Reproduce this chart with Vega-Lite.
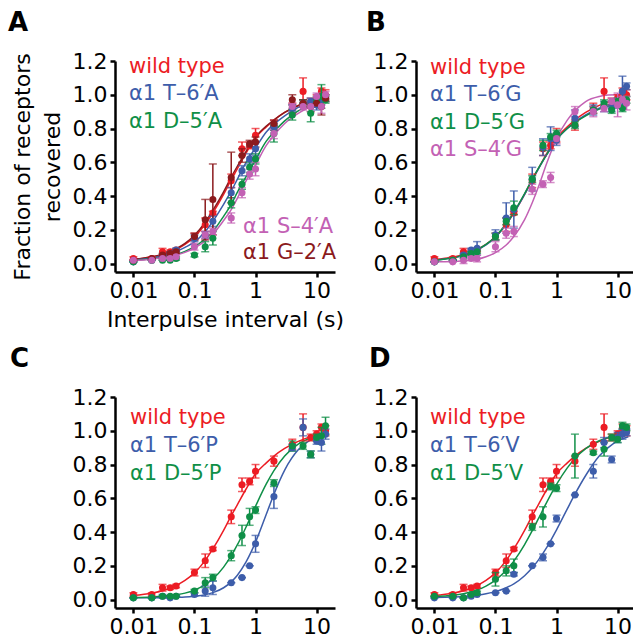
{
  "$schema": "https://vega.github.io/schema/vega-lite/v6.json",
  "background": "white",
  "padding": {"left": 8, "top": 10, "right": 0, "bottom": 0},
  "columns": 2,
  "spacing": {"row": 16, "column": 22},
  "datasets": {
    "wt": [
      {"s":"wild type","x":0.01,"y":0.03,"e":0.01},{"s":"wild type","x":0.02,"y":0.03,"e":0.01},{"s":"wild type","x":0.03,"y":0.07,"e":0.02},{"s":"wild type","x":0.04,"y":0.07,"e":0.01},{"s":"wild type","x":0.05,"y":0.08,"e":0.01},{"s":"wild type","x":0.1,"y":0.16,"e":0.02},{"s":"wild type","x":0.15,"y":0.23,"e":0.04},{"s":"wild type","x":0.2,"y":0.30,"e":0.01},{"s":"wild type","x":0.4,"y":0.49,"e":0.04},{"s":"wild type","x":0.6,"y":0.68,"e":0.04},{"s":"wild type","x":0.8,"y":0.70,"e":0.02},{"s":"wild type","x":1,"y":0.76,"e":0.04},{"s":"wild type","x":2,"y":0.82,"e":0.03},{"s":"wild type","x":4,"y":0.92,"e":0.03},{"s":"wild type","x":6,"y":1.02,"e":0.08},{"s":"wild type","x":8,"y":0.96,"e":0.02},{"s":"wild type","x":10,"y":0.98,"e":0.02},{"s":"wild type","x":12,"y":1.02,"e":0.02},{"s":"wild type","x":14,"y":1.00,"e":0.03}
    ],
    "wtc": [
      {"s":"wild type","x":0.01,"y":0.025},{"s":"wild type","x":0.02,"y":0.038},{"s":"wild type","x":0.03,"y":0.052},{"s":"wild type","x":0.05,"y":0.083},{"s":"wild type","x":0.07,"y":0.113},{"s":"wild type","x":0.1,"y":0.158},{"s":"wild type","x":0.15,"y":0.232},{"s":"wild type","x":0.2,"y":0.30},{"s":"wild type","x":0.3,"y":0.41},{"s":"wild type","x":0.4,"y":0.497},{"s":"wild type","x":0.5,"y":0.56},{"s":"wild type","x":0.7,"y":0.655},{"s":"wild type","x":1,"y":0.745},{"s":"wild type","x":1.5,"y":0.81},{"s":"wild type","x":2,"y":0.85},{"s":"wild type","x":3,"y":0.895},{"s":"wild type","x":5,"y":0.937},{"s":"wild type","x":7,"y":0.958},{"s":"wild type","x":10,"y":0.975},{"s":"wild type","x":15,"y":0.988}
    ],
    "A": [
      {"s":"α1 T–6′A","x":0.01,"y":0.01,"e":0},{"s":"α1 T–6′A","x":0.02,"y":0.02,"e":0},{"s":"α1 T–6′A","x":0.03,"y":0.04,"e":0.01},{"s":"α1 T–6′A","x":0.04,"y":0.06,"e":0.01},{"s":"α1 T–6′A","x":0.05,"y":0.08,"e":0.01},{"s":"α1 T–6′A","x":0.1,"y":0.15,"e":0.02},{"s":"α1 T–6′A","x":0.15,"y":0.17,"e":0.02},{"s":"α1 T–6′A","x":0.2,"y":0.25,"e":0.03},{"s":"α1 T–6′A","x":0.4,"y":0.42,"e":0.03},{"s":"α1 T–6′A","x":0.6,"y":0.55,"e":0.03},{"s":"α1 T–6′A","x":0.8,"y":0.62,"e":0.03},{"s":"α1 T–6′A","x":1,"y":0.68,"e":0.04},{"s":"α1 T–6′A","x":2,"y":0.81,"e":0.02},{"s":"α1 T–6′A","x":4,"y":0.92,"e":0.02},{"s":"α1 T–6′A","x":6,"y":0.95,"e":0.02},{"s":"α1 T–6′A","x":8,"y":0.96,"e":0.02},{"s":"α1 T–6′A","x":10,"y":0.94,"e":0.03},{"s":"α1 T–6′A","x":12,"y":0.97,"e":0.03},{"s":"α1 T–6′A","x":14,"y":0.98,"e":0.02},
      {"s":"α1 D–5′A","x":0.01,"y":0.01,"e":0},{"s":"α1 D–5′A","x":0.02,"y":0.02,"e":0},{"s":"α1 D–5′A","x":0.03,"y":0.02,"e":0},{"s":"α1 D–5′A","x":0.04,"y":0.02,"e":0},{"s":"α1 D–5′A","x":0.05,"y":0.03,"e":0.01},{"s":"α1 D–5′A","x":0.1,"y":0.05,"e":0.01},{"s":"α1 D–5′A","x":0.15,"y":0.10,"e":0.03},{"s":"α1 D–5′A","x":0.2,"y":0.15,"e":0.04},{"s":"α1 D–5′A","x":0.4,"y":0.36,"e":0.03},{"s":"α1 D–5′A","x":0.6,"y":0.47,"e":0.03},{"s":"α1 D–5′A","x":0.8,"y":0.57,"e":0.03},{"s":"α1 D–5′A","x":1,"y":0.62,"e":0.03},{"s":"α1 D–5′A","x":2,"y":0.77,"e":0.05},{"s":"α1 D–5′A","x":4,"y":0.88,"e":0.03},{"s":"α1 D–5′A","x":6,"y":0.95,"e":0.02},{"s":"α1 D–5′A","x":8,"y":0.89,"e":0.05},{"s":"α1 D–5′A","x":10,"y":0.96,"e":0.03},{"s":"α1 D–5′A","x":12,"y":0.99,"e":0.07},{"s":"α1 D–5′A","x":14,"y":0.97,"e":0.02},
      {"s":"α1 G–2′A","x":0.01,"y":0.02,"e":0},{"s":"α1 G–2′A","x":0.02,"y":0.03,"e":0},{"s":"α1 G–2′A","x":0.03,"y":0.05,"e":0.01},{"s":"α1 G–2′A","x":0.04,"y":0.06,"e":0.01},{"s":"α1 G–2′A","x":0.05,"y":0.07,"e":0.01},{"s":"α1 G–2′A","x":0.1,"y":0.16,"e":0.02},{"s":"α1 G–2′A","x":0.15,"y":0.26,"e":0.12},{"s":"α1 G–2′A","x":0.2,"y":0.38,"e":0.21},{"s":"α1 G–2′A","x":0.4,"y":0.51,"e":0.15},{"s":"α1 G–2′A","x":0.6,"y":0.64,"e":0.04},{"s":"α1 G–2′A","x":0.8,"y":0.71,"e":0.02},{"s":"α1 G–2′A","x":1,"y":0.72,"e":0.03},{"s":"α1 G–2′A","x":2,"y":0.83,"e":0.02},{"s":"α1 G–2′A","x":4,"y":0.97,"e":0.03},{"s":"α1 G–2′A","x":6,"y":0.95,"e":0.02},{"s":"α1 G–2′A","x":8,"y":0.93,"e":0.03},{"s":"α1 G–2′A","x":10,"y":0.95,"e":0.02},{"s":"α1 G–2′A","x":12,"y":0.93,"e":0.05},{"s":"α1 G–2′A","x":14,"y":0.98,"e":0.02},
      {"s":"α1 S–4′A","x":0.01,"y":0.02,"e":0},{"s":"α1 S–4′A","x":0.02,"y":0.02,"e":0},{"s":"α1 S–4′A","x":0.03,"y":0.03,"e":0},{"s":"α1 S–4′A","x":0.04,"y":0.03,"e":0},{"s":"α1 S–4′A","x":0.05,"y":0.04,"e":0.01},{"s":"α1 S–4′A","x":0.1,"y":0.10,"e":0.02},{"s":"α1 S–4′A","x":0.15,"y":0.17,"e":0.02},{"s":"α1 S–4′A","x":0.2,"y":0.19,"e":0.02},{"s":"α1 S–4′A","x":0.4,"y":0.27,"e":0.03},{"s":"α1 S–4′A","x":0.6,"y":0.42,"e":0.03},{"s":"α1 S–4′A","x":0.8,"y":0.53,"e":0.03},{"s":"α1 S–4′A","x":1,"y":0.56,"e":0.04},{"s":"α1 S–4′A","x":2,"y":0.77,"e":0.03},{"s":"α1 S–4′A","x":4,"y":0.93,"e":0.02},{"s":"α1 S–4′A","x":6,"y":0.93,"e":0.02},{"s":"α1 S–4′A","x":8,"y":0.93,"e":0.03},{"s":"α1 S–4′A","x":10,"y":0.99,"e":0.02},{"s":"α1 S–4′A","x":12,"y":0.93,"e":0.04},{"s":"α1 S–4′A","x":14,"y":1.0,"e":0.02}
    ],
    "Ac": [
      {"s":"α1 G–2′A","x":0.01,"y":0.025},{"s":"α1 G–2′A","x":0.02,"y":0.04},{"s":"α1 G–2′A","x":0.03,"y":0.055},{"s":"α1 G–2′A","x":0.05,"y":0.088},{"s":"α1 G–2′A","x":0.07,"y":0.12},{"s":"α1 G–2′A","x":0.1,"y":0.168},{"s":"α1 G–2′A","x":0.15,"y":0.245},{"s":"α1 G–2′A","x":0.2,"y":0.315},{"s":"α1 G–2′A","x":0.3,"y":0.425},{"s":"α1 G–2′A","x":0.4,"y":0.512},{"s":"α1 G–2′A","x":0.5,"y":0.575},{"s":"α1 G–2′A","x":0.7,"y":0.665},{"s":"α1 G–2′A","x":1,"y":0.75},{"s":"α1 G–2′A","x":1.5,"y":0.815},{"s":"α1 G–2′A","x":2,"y":0.85},{"s":"α1 G–2′A","x":3,"y":0.895},{"s":"α1 G–2′A","x":5,"y":0.935},{"s":"α1 G–2′A","x":7,"y":0.955},{"s":"α1 G–2′A","x":10,"y":0.972},{"s":"α1 G–2′A","x":15,"y":0.985},
      {"s":"α1 T–6′A","x":0.01,"y":0.02},{"s":"α1 T–6′A","x":0.02,"y":0.033},{"s":"α1 T–6′A","x":0.03,"y":0.045},{"s":"α1 T–6′A","x":0.05,"y":0.071},{"s":"α1 T–6′A","x":0.07,"y":0.096},{"s":"α1 T–6′A","x":0.1,"y":0.128},{"s":"α1 T–6′A","x":0.15,"y":0.19},{"s":"α1 T–6′A","x":0.2,"y":0.25},{"s":"α1 T–6′A","x":0.3,"y":0.35},{"s":"α1 T–6′A","x":0.4,"y":0.43},{"s":"α1 T–6′A","x":0.5,"y":0.497},{"s":"α1 T–6′A","x":0.7,"y":0.60},{"s":"α1 T–6′A","x":1,"y":0.685},{"s":"α1 T–6′A","x":1.5,"y":0.78},{"s":"α1 T–6′A","x":2,"y":0.825},{"s":"α1 T–6′A","x":3,"y":0.875},{"s":"α1 T–6′A","x":5,"y":0.925},{"s":"α1 T–6′A","x":7,"y":0.948},{"s":"α1 T–6′A","x":10,"y":0.967},{"s":"α1 T–6′A","x":15,"y":0.982},
      {"s":"α1 D–5′A","x":0.01,"y":0.018},{"s":"α1 D–5′A","x":0.02,"y":0.028},{"s":"α1 D–5′A","x":0.03,"y":0.036},{"s":"α1 D–5′A","x":0.05,"y":0.054},{"s":"α1 D–5′A","x":0.07,"y":0.072},{"s":"α1 D–5′A","x":0.1,"y":0.10},{"s":"α1 D–5′A","x":0.15,"y":0.147},{"s":"α1 D–5′A","x":0.2,"y":0.19},{"s":"α1 D–5′A","x":0.3,"y":0.28},{"s":"α1 D–5′A","x":0.4,"y":0.35},{"s":"α1 D–5′A","x":0.5,"y":0.42},{"s":"α1 D–5′A","x":0.7,"y":0.515},{"s":"α1 D–5′A","x":1,"y":0.615},{"s":"α1 D–5′A","x":1.5,"y":0.725},{"s":"α1 D–5′A","x":2,"y":0.78},{"s":"α1 D–5′A","x":3,"y":0.845},{"s":"α1 D–5′A","x":5,"y":0.905},{"s":"α1 D–5′A","x":7,"y":0.93},{"s":"α1 D–5′A","x":10,"y":0.953},{"s":"α1 D–5′A","x":15,"y":0.972},
      {"s":"α1 S–4′A","x":0.01,"y":0.017},{"s":"α1 S–4′A","x":0.02,"y":0.026},{"s":"α1 S–4′A","x":0.03,"y":0.034},{"s":"α1 S–4′A","x":0.05,"y":0.05},{"s":"α1 S–4′A","x":0.07,"y":0.066},{"s":"α1 S–4′A","x":0.1,"y":0.092},{"s":"α1 S–4′A","x":0.15,"y":0.134},{"s":"α1 S–4′A","x":0.2,"y":0.174},{"s":"α1 S–4′A","x":0.3,"y":0.255},{"s":"α1 S–4′A","x":0.4,"y":0.32},{"s":"α1 S–4′A","x":0.5,"y":0.385},{"s":"α1 S–4′A","x":0.7,"y":0.49},{"s":"α1 S–4′A","x":1,"y":0.585},{"s":"α1 S–4′A","x":1.5,"y":0.70},{"s":"α1 S–4′A","x":2,"y":0.76},{"s":"α1 S–4′A","x":3,"y":0.83},{"s":"α1 S–4′A","x":5,"y":0.89},{"s":"α1 S–4′A","x":7,"y":0.92},{"s":"α1 S–4′A","x":10,"y":0.947},{"s":"α1 S–4′A","x":15,"y":0.97}
    ],
    "B": [
      {"s":"α1 T–6′G","x":0.01,"y":0.01,"e":0},{"s":"α1 T–6′G","x":0.02,"y":0.02,"e":0},{"s":"α1 T–6′G","x":0.03,"y":0.05,"e":0.01},{"s":"α1 T–6′G","x":0.04,"y":0.08,"e":0.01},{"s":"α1 T–6′G","x":0.05,"y":0.09,"e":0.04},{"s":"α1 T–6′G","x":0.1,"y":0.17,"e":0.03},{"s":"α1 T–6′G","x":0.15,"y":0.27,"e":0.09},{"s":"α1 T–6′G","x":0.2,"y":0.32,"e":0.11},{"s":"α1 T–6′G","x":0.4,"y":0.50,"e":0.07},{"s":"α1 T–6′G","x":0.6,"y":0.69,"e":0.05},{"s":"α1 T–6′G","x":0.8,"y":0.74,"e":0.07},{"s":"α1 T–6′G","x":1,"y":0.73,"e":0.03},{"s":"α1 T–6′G","x":2,"y":0.86,"e":0.05},{"s":"α1 T–6′G","x":4,"y":0.91,"e":0.03},{"s":"α1 T–6′G","x":6,"y":0.93,"e":0.03},{"s":"α1 T–6′G","x":8,"y":0.92,"e":0.02},{"s":"α1 T–6′G","x":10,"y":0.95,"e":0.03},{"s":"α1 T–6′G","x":12,"y":1.02,"e":0.09},{"s":"α1 T–6′G","x":14,"y":1.05,"e":0.02},
      {"s":"α1 D–5′G","x":0.01,"y":0.01,"e":0},{"s":"α1 D–5′G","x":0.02,"y":0.02,"e":0},{"s":"α1 D–5′G","x":0.03,"y":0.04,"e":0.01},{"s":"α1 D–5′G","x":0.04,"y":0.06,"e":0.01},{"s":"α1 D–5′G","x":0.05,"y":0.07,"e":0.01},{"s":"α1 D–5′G","x":0.1,"y":0.16,"e":0.02},{"s":"α1 D–5′G","x":0.15,"y":0.25,"e":0.02},{"s":"α1 D–5′G","x":0.2,"y":0.33,"e":0.04},{"s":"α1 D–5′G","x":0.4,"y":0.50,"e":0.02},{"s":"α1 D–5′G","x":0.6,"y":0.70,"e":0.03},{"s":"α1 D–5′G","x":0.8,"y":0.75,"e":0.02},{"s":"α1 D–5′G","x":1,"y":0.77,"e":0.02},{"s":"α1 D–5′G","x":2,"y":0.82,"e":0.02},{"s":"α1 D–5′G","x":4,"y":0.91,"e":0.02},{"s":"α1 D–5′G","x":6,"y":0.95,"e":0.02},{"s":"α1 D–5′G","x":8,"y":0.91,"e":0.02},{"s":"α1 D–5′G","x":10,"y":0.96,"e":0.02},{"s":"α1 D–5′G","x":12,"y":0.92,"e":0.02},{"s":"α1 D–5′G","x":14,"y":0.97,"e":0.02},
      {"s":"α1 S–4′G","x":0.01,"y":0.01,"e":0},{"s":"α1 S–4′G","x":0.02,"y":0.01,"e":0},{"s":"α1 S–4′G","x":0.03,"y":0.02,"e":0.02},{"s":"α1 S–4′G","x":0.04,"y":0.03,"e":0.01},{"s":"α1 S–4′G","x":0.05,"y":0.03,"e":0.02},{"s":"α1 S–4′G","x":0.1,"y":0.10,"e":0.03},{"s":"α1 S–4′G","x":0.15,"y":0.18,"e":0.03},{"s":"α1 S–4′G","x":0.2,"y":0.19,"e":0.03},{"s":"α1 S–4′G","x":0.4,"y":0.44,"e":0.03},{"s":"α1 S–4′G","x":0.6,"y":0.47,"e":0.02},{"s":"α1 S–4′G","x":0.8,"y":0.51,"e":0.03},{"s":"α1 S–4′G","x":1,"y":0.74,"e":0.03},{"s":"α1 S–4′G","x":2,"y":0.90,"e":0.03},{"s":"α1 S–4′G","x":4,"y":0.90,"e":0.03},{"s":"α1 S–4′G","x":6,"y":0.92,"e":0.02},{"s":"α1 S–4′G","x":8,"y":0.96,"e":0.02},{"s":"α1 S–4′G","x":10,"y":0.94,"e":0.07},{"s":"α1 S–4′G","x":12,"y":0.97,"e":0.02},{"s":"α1 S–4′G","x":14,"y":0.95,"e":0.04}
    ],
    "Bc": [
      {"s":"α1 T–6′G","x":0.01,"y":0.02},{"s":"α1 T–6′G","x":0.02,"y":0.034},{"s":"α1 T–6′G","x":0.03,"y":0.048},{"s":"α1 T–6′G","x":0.05,"y":0.08},{"s":"α1 T–6′G","x":0.07,"y":0.11},{"s":"α1 T–6′G","x":0.1,"y":0.156},{"s":"α1 T–6′G","x":0.15,"y":0.232},{"s":"α1 T–6′G","x":0.2,"y":0.30},{"s":"α1 T–6′G","x":0.3,"y":0.41},{"s":"α1 T–6′G","x":0.4,"y":0.495},{"s":"α1 T–6′G","x":0.5,"y":0.558},{"s":"α1 T–6′G","x":0.7,"y":0.648},{"s":"α1 T–6′G","x":1,"y":0.733},{"s":"α1 T–6′G","x":1.5,"y":0.80},{"s":"α1 T–6′G","x":2,"y":0.838},{"s":"α1 T–6′G","x":3,"y":0.88},{"s":"α1 T–6′G","x":5,"y":0.92},{"s":"α1 T–6′G","x":7,"y":0.94},{"s":"α1 T–6′G","x":10,"y":0.958},{"s":"α1 T–6′G","x":15,"y":0.975},
      {"s":"α1 D–5′G","x":0.01,"y":0.02},{"s":"α1 D–5′G","x":0.02,"y":0.035},{"s":"α1 D–5′G","x":0.03,"y":0.05},{"s":"α1 D–5′G","x":0.05,"y":0.082},{"s":"α1 D–5′G","x":0.07,"y":0.113},{"s":"α1 D–5′G","x":0.1,"y":0.16},{"s":"α1 D–5′G","x":0.15,"y":0.237},{"s":"α1 D–5′G","x":0.2,"y":0.305},{"s":"α1 D–5′G","x":0.3,"y":0.415},{"s":"α1 D–5′G","x":0.4,"y":0.50},{"s":"α1 D–5′G","x":0.5,"y":0.562},{"s":"α1 D–5′G","x":0.7,"y":0.65},{"s":"α1 D–5′G","x":1,"y":0.735},{"s":"α1 D–5′G","x":1.5,"y":0.80},{"s":"α1 D–5′G","x":2,"y":0.835},{"s":"α1 D–5′G","x":3,"y":0.875},{"s":"α1 D–5′G","x":5,"y":0.915},{"s":"α1 D–5′G","x":7,"y":0.935},{"s":"α1 D–5′G","x":10,"y":0.955},{"s":"α1 D–5′G","x":15,"y":0.97},
      {"s":"α1 S–4′G","x":0.01,"y":0.01},{"s":"α1 S–4′G","x":0.02,"y":0.012},{"s":"α1 S–4′G","x":0.03,"y":0.016},{"s":"α1 S–4′G","x":0.05,"y":0.025},{"s":"α1 S–4′G","x":0.07,"y":0.04},{"s":"α1 S–4′G","x":0.1,"y":0.065},{"s":"α1 S–4′G","x":0.15,"y":0.11},{"s":"α1 S–4′G","x":0.2,"y":0.16},{"s":"α1 S–4′G","x":0.3,"y":0.26},{"s":"α1 S–4′G","x":0.4,"y":0.36},{"s":"α1 S–4′G","x":0.5,"y":0.45},{"s":"α1 S–4′G","x":0.7,"y":0.60},{"s":"α1 S–4′G","x":1,"y":0.74},{"s":"α1 S–4′G","x":1.5,"y":0.85},{"s":"α1 S–4′G","x":2,"y":0.905},{"s":"α1 S–4′G","x":3,"y":0.96},{"s":"α1 S–4′G","x":5,"y":0.99},{"s":"α1 S–4′G","x":7,"y":0.998},{"s":"α1 S–4′G","x":10,"y":1.0},{"s":"α1 S–4′G","x":15,"y":1.0}
    ],
    "C": [
      {"s":"α1 T–6′P","x":0.01,"y":0.01,"e":0},{"s":"α1 T–6′P","x":0.02,"y":0.01,"e":0},{"s":"α1 T–6′P","x":0.03,"y":0.02,"e":0.01},{"s":"α1 T–6′P","x":0.04,"y":0.01,"e":0},{"s":"α1 T–6′P","x":0.05,"y":0.02,"e":0},{"s":"α1 T–6′P","x":0.1,"y":0.03,"e":0.01},{"s":"α1 T–6′P","x":0.15,"y":0.05,"e":0.03},{"s":"α1 T–6′P","x":0.2,"y":0.07,"e":0.04},{"s":"α1 T–6′P","x":0.4,"y":0.10,"e":0},{"s":"α1 T–6′P","x":0.6,"y":0.13,"e":0},{"s":"α1 T–6′P","x":0.8,"y":0.20,"e":0},{"s":"α1 T–6′P","x":1,"y":0.33,"e":0.05},{"s":"α1 T–6′P","x":2,"y":0.61,"e":0.07},{"s":"α1 T–6′P","x":4,"y":0.90,"e":0.02},{"s":"α1 T–6′P","x":6,"y":1.02,"e":0.05},{"s":"α1 T–6′P","x":8,"y":0.86,"e":0.02},{"s":"α1 T–6′P","x":10,"y":0.94,"e":0.02},{"s":"α1 T–6′P","x":12,"y":0.93,"e":0.05},{"s":"α1 T–6′P","x":14,"y":0.98,"e":0.03},
      {"s":"α1 D–5′P","x":0.01,"y":0.01,"e":0},{"s":"α1 D–5′P","x":0.02,"y":0.01,"e":0},{"s":"α1 D–5′P","x":0.03,"y":0.02,"e":0},{"s":"α1 D–5′P","x":0.04,"y":0.02,"e":0},{"s":"α1 D–5′P","x":0.05,"y":0.02,"e":0},{"s":"α1 D–5′P","x":0.1,"y":0.05,"e":0.01},{"s":"α1 D–5′P","x":0.15,"y":0.10,"e":0.03},{"s":"α1 D–5′P","x":0.2,"y":0.13,"e":0.02},{"s":"α1 D–5′P","x":0.4,"y":0.26,"e":0.03},{"s":"α1 D–5′P","x":0.6,"y":0.38,"e":0.06},{"s":"α1 D–5′P","x":0.8,"y":0.49,"e":0.05},{"s":"α1 D–5′P","x":1,"y":0.53,"e":0.02},{"s":"α1 D–5′P","x":2,"y":0.69,"e":0.02},{"s":"α1 D–5′P","x":4,"y":0.91,"e":0.03},{"s":"α1 D–5′P","x":6,"y":0.91,"e":0.02},{"s":"α1 D–5′P","x":8,"y":0.86,"e":0.02},{"s":"α1 D–5′P","x":10,"y":0.96,"e":0.02},{"s":"α1 D–5′P","x":12,"y":0.97,"e":0.05},{"s":"α1 D–5′P","x":14,"y":1.03,"e":0.05}
    ],
    "Cc": [
      {"s":"α1 T–6′P","x":0.01,"y":0.01},{"s":"α1 T–6′P","x":0.02,"y":0.011},{"s":"α1 T–6′P","x":0.03,"y":0.011},{"s":"α1 T–6′P","x":0.05,"y":0.013},{"s":"α1 T–6′P","x":0.07,"y":0.015},{"s":"α1 T–6′P","x":0.1,"y":0.02},{"s":"α1 T–6′P","x":0.15,"y":0.029},{"s":"α1 T–6′P","x":0.2,"y":0.041},{"s":"α1 T–6′P","x":0.3,"y":0.07},{"s":"α1 T–6′P","x":0.4,"y":0.105},{"s":"α1 T–6′P","x":0.5,"y":0.143},{"s":"α1 T–6′P","x":0.7,"y":0.223},{"s":"α1 T–6′P","x":1,"y":0.34},{"s":"α1 T–6′P","x":1.5,"y":0.505},{"s":"α1 T–6′P","x":2,"y":0.624},{"s":"α1 T–6′P","x":3,"y":0.767},{"s":"α1 T–6′P","x":5,"y":0.887},{"s":"α1 T–6′P","x":7,"y":0.933},{"s":"α1 T–6′P","x":10,"y":0.962},{"s":"α1 T–6′P","x":15,"y":0.98},
      {"s":"α1 D–5′P","x":0.01,"y":0.012},{"s":"α1 D–5′P","x":0.02,"y":0.015},{"s":"α1 D–5′P","x":0.03,"y":0.019},{"s":"α1 D–5′P","x":0.05,"y":0.028},{"s":"α1 D–5′P","x":0.07,"y":0.038},{"s":"α1 D–5′P","x":0.1,"y":0.056},{"s":"α1 D–5′P","x":0.15,"y":0.088},{"s":"α1 D–5′P","x":0.2,"y":0.122},{"s":"α1 D–5′P","x":0.3,"y":0.192},{"s":"α1 D–5′P","x":0.4,"y":0.26},{"s":"α1 D–5′P","x":0.5,"y":0.322},{"s":"α1 D–5′P","x":0.7,"y":0.43},{"s":"α1 D–5′P","x":1,"y":0.553},{"s":"α1 D–5′P","x":1.5,"y":0.685},{"s":"α1 D–5′P","x":2,"y":0.764},{"s":"α1 D–5′P","x":3,"y":0.851},{"s":"α1 D–5′P","x":5,"y":0.921},{"s":"α1 D–5′P","x":7,"y":0.949},{"s":"α1 D–5′P","x":10,"y":0.969},{"s":"α1 D–5′P","x":15,"y":0.982}
    ],
    "D": [
      {"s":"α1 T–6′V","x":0.01,"y":0.01,"e":0},{"s":"α1 T–6′V","x":0.02,"y":0.01,"e":0},{"s":"α1 T–6′V","x":0.03,"y":0.01,"e":0},{"s":"α1 T–6′V","x":0.04,"y":0.02,"e":0},{"s":"α1 T–6′V","x":0.05,"y":0.03,"e":0},{"s":"α1 T–6′V","x":0.1,"y":0.04,"e":0},{"s":"α1 T–6′V","x":0.15,"y":0.05,"e":0},{"s":"α1 T–6′V","x":0.2,"y":0.15,"e":0.01},{"s":"α1 T–6′V","x":0.4,"y":0.20,"e":0},{"s":"α1 T–6′V","x":0.6,"y":0.25,"e":0.02},{"s":"α1 T–6′V","x":0.8,"y":0.33,"e":0},{"s":"α1 T–6′V","x":1,"y":0.48,"e":0.02},{"s":"α1 T–6′V","x":2,"y":0.62,"e":0},{"s":"α1 T–6′V","x":4,"y":0.76,"e":0.04},{"s":"α1 T–6′V","x":6,"y":0.93,"e":0.03},{"s":"α1 T–6′V","x":8,"y":0.83,"e":0.02},{"s":"α1 T–6′V","x":10,"y":0.96,"e":0.03},{"s":"α1 T–6′V","x":12,"y":0.98,"e":0.03},{"s":"α1 T–6′V","x":14,"y":0.99,"e":0.02},
      {"s":"α1 D–5′V","x":0.01,"y":0.02,"e":0},{"s":"α1 D–5′V","x":0.02,"y":0.02,"e":0},{"s":"α1 D–5′V","x":0.03,"y":0.01,"e":0},{"s":"α1 D–5′V","x":0.04,"y":0.03,"e":0},{"s":"α1 D–5′V","x":0.05,"y":0.04,"e":0.01},{"s":"α1 D–5′V","x":0.1,"y":0.12,"e":0.04},{"s":"α1 D–5′V","x":0.15,"y":0.17,"e":0.03},{"s":"α1 D–5′V","x":0.2,"y":0.20,"e":0.04},{"s":"α1 D–5′V","x":0.4,"y":0.43,"e":0.02},{"s":"α1 D–5′V","x":0.6,"y":0.49,"e":0.06},{"s":"α1 D–5′V","x":0.8,"y":0.67,"e":0.02},{"s":"α1 D–5′V","x":1,"y":0.66,"e":0.02},{"s":"α1 D–5′V","x":2,"y":0.85,"e":0.13},{"s":"α1 D–5′V","x":4,"y":0.87,"e":0.01},{"s":"α1 D–5′V","x":6,"y":0.89,"e":0.04},{"s":"α1 D–5′V","x":8,"y":0.96,"e":0.02},{"s":"α1 D–5′V","x":10,"y":0.95,"e":0.02},{"s":"α1 D–5′V","x":12,"y":1.03,"e":0.02},{"s":"α1 D–5′V","x":14,"y":1.02,"e":0.02}
    ],
    "Dc": [
      {"s":"α1 T–6′V","x":0.01,"y":0.012},{"s":"α1 T–6′V","x":0.02,"y":0.015},{"s":"α1 T–6′V","x":0.03,"y":0.018},{"s":"α1 T–6′V","x":0.05,"y":0.026},{"s":"α1 T–6′V","x":0.07,"y":0.034},{"s":"α1 T–6′V","x":0.1,"y":0.047},{"s":"α1 T–6′V","x":0.15,"y":0.07},{"s":"α1 T–6′V","x":0.2,"y":0.093},{"s":"α1 T–6′V","x":0.3,"y":0.141},{"s":"α1 T–6′V","x":0.4,"y":0.188},{"s":"α1 T–6′V","x":0.5,"y":0.232},{"s":"α1 T–6′V","x":0.7,"y":0.312},{"s":"α1 T–6′V","x":1,"y":0.413},{"s":"α1 T–6′V","x":1.5,"y":0.537},{"s":"α1 T–6′V","x":2,"y":0.624},{"s":"α1 T–6′V","x":3,"y":0.735},{"s":"α1 T–6′V","x":5,"y":0.85},{"s":"α1 T–6′V","x":7,"y":0.90},{"s":"α1 T–6′V","x":10,"y":0.94},{"s":"α1 T–6′V","x":15,"y":0.965},
      {"s":"α1 D–5′V","x":0.01,"y":0.017},{"s":"α1 D–5′V","x":0.02,"y":0.025},{"s":"α1 D–5′V","x":0.03,"y":0.035},{"s":"α1 D–5′V","x":0.05,"y":0.057},{"s":"α1 D–5′V","x":0.07,"y":0.08},{"s":"α1 D–5′V","x":0.1,"y":0.115},{"s":"α1 D–5′V","x":0.15,"y":0.173},{"s":"α1 D–5′V","x":0.2,"y":0.228},{"s":"α1 D–5′V","x":0.3,"y":0.326},{"s":"α1 D–5′V","x":0.4,"y":0.408},{"s":"α1 D–5′V","x":0.5,"y":0.476},{"s":"α1 D–5′V","x":0.7,"y":0.58},{"s":"α1 D–5′V","x":1,"y":0.682},{"s":"α1 D–5′V","x":1.5,"y":0.78},{"s":"α1 D–5′V","x":2,"y":0.836},{"s":"α1 D–5′V","x":3,"y":0.894},{"s":"α1 D–5′V","x":5,"y":0.941},{"s":"α1 D–5′V","x":7,"y":0.96},{"s":"α1 D–5′V","x":10,"y":0.974},{"s":"α1 D–5′V","x":15,"y":0.984}
    ]
  },
  "concat": [
    {
      "width": 220, "height": 211,
      "title": {"text": "A", "dx": -107, "offset": 14},
      "encoding": {
        "x": {"field": "x", "type": "quantitative", "scale": {"type": "log", "domain": [0.005, 20]}, "axis": {"values": [0.01, 0.1, 1, 10], "format": "~g", "title": "Interpulse interval (s)", "titlePadding": 8, "labelPadding": 3}},
        "y": {"field": "y", "type": "quantitative", "scale": {"domain": [-0.05, 1.2], "nice": false, "zero": false}, "axis": {"values": [0, 0.2, 0.4, 0.6, 0.8, 1.0, 1.2], "format": ".1f", "title": ["Fraction of receptors", "recovered"], "titlePadding": 8, "titleLineHeight": 30}},
        "color": {"field": "s", "type": "nominal",
          "scale": {"domain": ["wild type", "α1 T–6′A", "α1 D–5′A", "α1 S–4′A", "α1 G–2′A"], "range": ["#EC1C24", "#3D5DAA", "#0F8F47", "#C361B4", "#8B1A1D"]},
          "legend": {"title": null, "orient": "none", "legendX": -7, "legendY": -5, "values": ["wild type", "α1 T–6′A", "α1 D–5′A"], "rowPadding": 5.5,
            "labelColor": {"expr": "indexof(datum.label,'wild')>=0 ? '#EC1C24' : indexof(datum.label,'T–')>=0 ? '#3D5DAA' : indexof(datum.label,'D–')>=0 ? '#0F8F47' : indexof(datum.label,'S–')>=0 ? '#C361B4' : '#8B1A1D'"}}}
      },
      "layer": [
        {"data": {"name": "wtc"}, "mark": {"type": "line", "interpolate": "monotone", "strokeWidth": 1.5}},
        {"data": {"name": "Ac"}, "mark": {"type": "line", "interpolate": "monotone", "strokeWidth": 1.5},
          "encoding": {"stroke": {"field": "s", "type": "nominal",
            "scale": {"domain": ["α1 S–4′A", "α1 G–2′A", "α1 T–6′A", "α1 D–5′A"], "range": ["#C361B4", "#8B1A1D", "#3D5DAA", "#0F8F47"]},
            "legend": {"title": null, "orient": "none", "legendX": 107, "legendY": 155, "values": ["α1 S–4′A", "α1 G–2′A"], "rowPadding": 4.5,
              "labelColor": {"expr": "indexof(datum.label,'S–')>=0 ? '#C361B4' : '#8B1A1D'"}}}}},
        {"data": {"name": "wt"}, "mark": {"type": "errorbar", "ticks": true, "size": 8, "thickness": 1.5}, "encoding": {"yError": {"field": "e"}}},
        {"data": {"name": "wt"}, "mark": {"type": "point", "filled": true, "size": 50, "opacity": 1}},
        {"data": {"name": "A"}, "mark": {"type": "errorbar", "ticks": true, "size": 8, "thickness": 1.5}, "encoding": {"yError": {"field": "e"}}},
        {"data": {"name": "A"}, "mark": {"type": "point", "filled": true, "size": 50, "opacity": 1}}
      ]
    },
    {
      "width": 220, "height": 211,
      "title": {"text": "B", "dx": -50, "offset": 14},
      "encoding": {
        "x": {"field": "x", "type": "quantitative", "scale": {"type": "log", "domain": [0.005, 20]}, "axis": {"values": [0.01, 0.1, 1, 10], "format": "~g", "title": null, "labelPadding": 3}},
        "y": {"field": "y", "type": "quantitative", "scale": {"domain": [-0.05, 1.2], "nice": false, "zero": false}, "axis": {"values": [0, 0.2, 0.4, 0.6, 0.8, 1.0, 1.2], "format": ".1f", "title": null}},
        "color": {"field": "s", "type": "nominal",
          "scale": {"domain": ["wild type", "α1 T–6′G", "α1 D–5′G", "α1 S–4′G"], "range": ["#EC1C24", "#3D5DAA", "#0F8F47", "#C361B4"]},
          "legend": {"title": null, "orient": "none", "legendX": -7, "legendY": -4, "rowPadding": 5.5,
            "labelColor": {"expr": "indexof(datum.label,'wild')>=0 ? '#EC1C24' : indexof(datum.label,'T–')>=0 ? '#3D5DAA' : indexof(datum.label,'D–')>=0 ? '#0F8F47' : '#C361B4'"}}}
      },
      "layer": [
        {"data": {"name": "wtc"}, "mark": {"type": "line", "interpolate": "monotone", "strokeWidth": 1.5}},
        {"data": {"name": "Bc"}, "mark": {"type": "line", "interpolate": "monotone", "strokeWidth": 1.5}},
        {"data": {"name": "wt"}, "mark": {"type": "errorbar", "ticks": true, "size": 8, "thickness": 1.5}, "encoding": {"yError": {"field": "e"}}},
        {"data": {"name": "wt"}, "mark": {"type": "point", "filled": true, "size": 50, "opacity": 1}},
        {"data": {"name": "B"}, "mark": {"type": "errorbar", "ticks": true, "size": 8, "thickness": 1.5}, "encoding": {"yError": {"field": "e"}}},
        {"data": {"name": "B"}, "mark": {"type": "point", "filled": true, "size": 50, "opacity": 1}}
      ]
    },
    {
      "width": 220, "height": 211,
      "title": {"text": "C", "dx": -105, "offset": 14},
      "encoding": {
        "x": {"field": "x", "type": "quantitative", "scale": {"type": "log", "domain": [0.005, 20]}, "axis": {"values": [0.01, 0.1, 1, 10], "format": "~g", "title": null, "labelPadding": 3}},
        "y": {"field": "y", "type": "quantitative", "scale": {"domain": [-0.05, 1.2], "nice": false, "zero": false}, "axis": {"values": [0, 0.2, 0.4, 0.6, 0.8, 1.0, 1.2], "format": ".1f", "title": null}},
        "color": {"field": "s", "type": "nominal",
          "scale": {"domain": ["wild type", "α1 T–6′P", "α1 D–5′P"], "range": ["#EC1C24", "#3D5DAA", "#0F8F47"]},
          "legend": {"title": null, "orient": "none", "legendX": -6, "legendY": 10, "rowPadding": 6,
            "labelColor": {"expr": "indexof(datum.label,'wild')>=0 ? '#EC1C24' : indexof(datum.label,'T–')>=0 ? '#3D5DAA' : '#0F8F47'"}}}
      },
      "layer": [
        {"data": {"name": "wtc"}, "mark": {"type": "line", "interpolate": "monotone", "strokeWidth": 1.5}},
        {"data": {"name": "Cc"}, "mark": {"type": "line", "interpolate": "monotone", "strokeWidth": 1.5}},
        {"data": {"name": "wt"}, "mark": {"type": "errorbar", "ticks": true, "size": 8, "thickness": 1.5}, "encoding": {"yError": {"field": "e"}}},
        {"data": {"name": "wt"}, "mark": {"type": "point", "filled": true, "size": 50, "opacity": 1}},
        {"data": {"name": "C"}, "mark": {"type": "errorbar", "ticks": true, "size": 8, "thickness": 1.5}, "encoding": {"yError": {"field": "e"}}},
        {"data": {"name": "C"}, "mark": {"type": "point", "filled": true, "size": 50, "opacity": 1}}
      ]
    },
    {
      "width": 220, "height": 211,
      "title": {"text": "D", "dx": -47, "offset": 14},
      "encoding": {
        "x": {"field": "x", "type": "quantitative", "scale": {"type": "log", "domain": [0.005, 20]}, "axis": {"values": [0.01, 0.1, 1, 10], "format": "~g", "title": null, "labelPadding": 3}},
        "y": {"field": "y", "type": "quantitative", "scale": {"domain": [-0.05, 1.2], "nice": false, "zero": false}, "axis": {"values": [0, 0.2, 0.4, 0.6, 0.8, 1.0, 1.2], "format": ".1f", "title": null}},
        "color": {"field": "s", "type": "nominal",
          "scale": {"domain": ["wild type", "α1 T–6′V", "α1 D–5′V"], "range": ["#EC1C24", "#3D5DAA", "#0F8F47"]},
          "legend": {"title": null, "orient": "none", "legendX": -7, "legendY": 10, "rowPadding": 6,
            "labelColor": {"expr": "indexof(datum.label,'wild')>=0 ? '#EC1C24' : indexof(datum.label,'T–')>=0 ? '#3D5DAA' : '#0F8F47'"}}}
      },
      "layer": [
        {"data": {"name": "wtc"}, "mark": {"type": "line", "interpolate": "monotone", "strokeWidth": 1.5}},
        {"data": {"name": "Dc"}, "mark": {"type": "line", "interpolate": "monotone", "strokeWidth": 1.5}},
        {"data": {"name": "wt"}, "mark": {"type": "errorbar", "ticks": true, "size": 8, "thickness": 1.5}, "encoding": {"yError": {"field": "e"}}},
        {"data": {"name": "wt"}, "mark": {"type": "point", "filled": true, "size": 50, "opacity": 1}},
        {"data": {"name": "D"}, "mark": {"type": "errorbar", "ticks": true, "size": 8, "thickness": 1.5}, "encoding": {"yError": {"field": "e"}}},
        {"data": {"name": "D"}, "mark": {"type": "point", "filled": true, "size": 50, "opacity": 1}}
      ]
    }
  ],
  "resolve": {
    "scale": {"color": "independent", "stroke": "independent", "x": "independent", "y": "independent"},
    "legend": {"color": "independent", "stroke": "independent"}
  },
  "config": {
    "view": {"stroke": null},
    "font": "DejaVu Sans",
    "axis": {"domainColor": "black", "domainWidth": 2.5, "tickColor": "black", "tickWidth": 2.5, "tickSize": 5, "labelFont": "DejaVu Sans", "labelFontSize": 22, "labelColor": "black", "labelPadding": 3, "grid": false, "titleFont": "DejaVu Sans", "titleFontSize": 22, "titleFontWeight": "normal", "titleColor": "black"},
    "title": {"font": "DejaVu Sans", "fontSize": 26, "fontWeight": "bold", "color": "black", "anchor": "start", "frame": "group"},
    "legend": {"symbolSize": 0, "symbolOpacity": 0, "symbolStrokeWidth": 0, "labelOffset": 0, "labelFont": "DejaVu Sans", "labelFontSize": 21, "padding": 0, "labelLimit": 0}
  }
}
